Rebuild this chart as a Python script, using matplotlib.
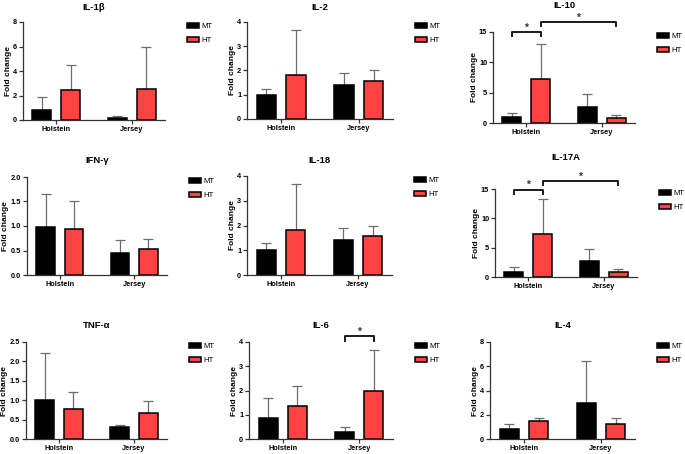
import numpy as np
import matplotlib
matplotlib.use("Agg")
import matplotlib.pyplot as plt
from matplotlib.ticker import MultipleLocator, FormatStrFormatter
from matplotlib.transforms import offset_copy

# data (mean and upper SD for each breed)
groups = ["Holstein", "Jersey"]
series = ["MT", "HT"]
cytokines = ["IL-1β", "IL-2", "IL-10", "IFN-γ", "IL-18", "IL-17A", "TNF-α", "IL-6", "IL-4"]

mt_mean = [[0.80, 0.15], [1.00, 1.40], [1.00, 2.70], [0.98, 0.45], [1.00, 1.40],
           [0.90, 2.70], [1.00, 0.31], [0.88, 0.28], [0.85, 2.95]]
mt_sd = [[1.10, 0.20], [0.25, 0.50], [0.70, 2.00], [0.67, 0.26], [0.28, 0.50],
         [0.80, 2.10], [1.22, 0.04], [0.82, 0.22], [0.40, 3.50]]
ht_mean = [[2.45, 2.50], [1.80, 1.58], [7.20, 0.85], [0.93, 0.53], [1.83, 1.57],
           [7.30, 0.80], [0.77, 0.67], [1.37, 1.97], [1.45, 1.20]]
ht_sd = [[2.05, 3.50], [1.85, 0.42], [5.80, 0.50], [0.59, 0.20], [1.84, 0.43],
         [6.00, 0.50], [0.43, 0.30], [0.80, 1.71], [0.30, 0.50]]

y_max = [8, 4, 15, 2, 4, 15, 2.5, 4, 8]
y_step = [2, 1, 5, 0.5, 1, 5, 0.5, 1, 2]

# significance brackets: panel, (group, series) from, (group, series) to, height
sig_panel = [2, 2, 5, 5, 7]
sig_from = [(0, 0), (0, 1), (0, 0), (0, 1), (1, 0)]
sig_to = [(0, 1), (1, 1), (0, 1), (1, 1), (1, 1)]
sig_y = [15.0, 16.6, 14.9, 16.3, 4.23]

# layout (pixels): left, top, right, bottom of each axes; title centre y
W, H = 685, 454
boxes = [(23, 22, 165, 120), (247, 22, 393, 119), (493, 32, 635, 123),
         (27, 177, 167, 275), (247, 176, 392, 275), (495, 189, 637, 277),
         (26, 342, 167, 439), (249, 342, 393, 439), (490, 342, 635, 439)]
title_y = [7, 7, 5, 160, 160, 157, 325, 325, 325]

RED = "#ff4242"
BAR_W = 0.25
OFF = 0.19

plt.rcParams["font.family"] = ["Liberation Sans", "DejaVu Sans"]

fig = plt.figure(figsize=(W / 100, H / 100), dpi=100)
x = np.arange(len(groups))

for i, name in enumerate(cytokines):
    l, t, r, b = boxes[i]
    ax = fig.add_axes([l / W, 1 - b / H, (r - l) / W, (b - t) / H])

    bars = []
    for k, (mean, sd, col) in enumerate([(mt_mean[i], mt_sd[i], "black"),
                                         (ht_mean[i], ht_sd[i], RED)]):
        xs = x + (k * 2 - 1) * OFF
        bars.append(ax.bar(xs, mean, BAR_W, color=col, edgecolor="black",
                           linewidth=1.1, zorder=2, label=series[k]))
        ax.errorbar(xs, mean, yerr=[np.zeros(len(mean)), sd], fmt="none",
                    ecolor="#6e6e6e", elinewidth=0.9, capsize=3.6,
                    capthick=0.9, zorder=1, clip_on=False)

    ax.set_xlim(-0.44, 1.44)
    ax.set_ylim(0, y_max[i])
    ax.set_xticks(x)
    ax.set_xticklabels(groups)
    ax.yaxis.set_major_locator(MultipleLocator(y_step[i]))
    ax.yaxis.set_major_formatter(FormatStrFormatter("%.1f" if y_step[i] < 1 else "%d"))
    for s in ["top", "right"]:
        ax.spines[s].set_visible(False)
    for s in ["left", "bottom"]:
        ax.spines[s].set_linewidth(0.9)
        ax.spines[s].set_color("#333333")
    ax.tick_params(length=3, width=0.9, color="#333333", pad=1.2,
                   labelsize=5.3)
    for lab in ax.get_xticklabels() + ax.get_yticklabels():
        lab.set_fontweight("bold")
    ax.set_ylabel("Fold change", fontsize=6, fontweight="bold", labelpad=1)

    fig.text((l + r) / 2 / W, 1 - title_y[i] / H, name, ha="center",
             va="center", fontsize=6.8, fontweight="bold")

    ax.legend(handles=bars, loc="upper left", bbox_to_anchor=(1, 1),
              bbox_transform=offset_copy(ax.transAxes, fig=fig, x=22, y=-1,
                                         units="dots"),
              frameon=False, fontsize=5.6, handlelength=1.55,
              handleheight=0.65, handletextpad=0.35, labelspacing=0.85,
              borderpad=0, borderaxespad=0)

    # significance brackets
    tick = y_max[i] * 0.045
    for p, a, c, y in zip(sig_panel, sig_from, sig_to, sig_y):
        if p != i:
            continue
        x1 = a[0] + (a[1] * 2 - 1) * OFF
        x2 = c[0] + (c[1] * 2 - 1) * OFF
        ax.plot([x1, x1, x2, x2], [y - tick, y, y, y - tick], color="#1a1a1a",
                linewidth=1.4, clip_on=False)
        ax.annotate("*", ((x1 + x2) / 2, y), xytext=(0, -0.5),
                    textcoords="offset points", ha="center", va="bottom",
                    fontsize=7.5, fontweight="bold", color="#333333",
                    annotation_clip=False)

fig.savefig("out.png", dpi=100)
